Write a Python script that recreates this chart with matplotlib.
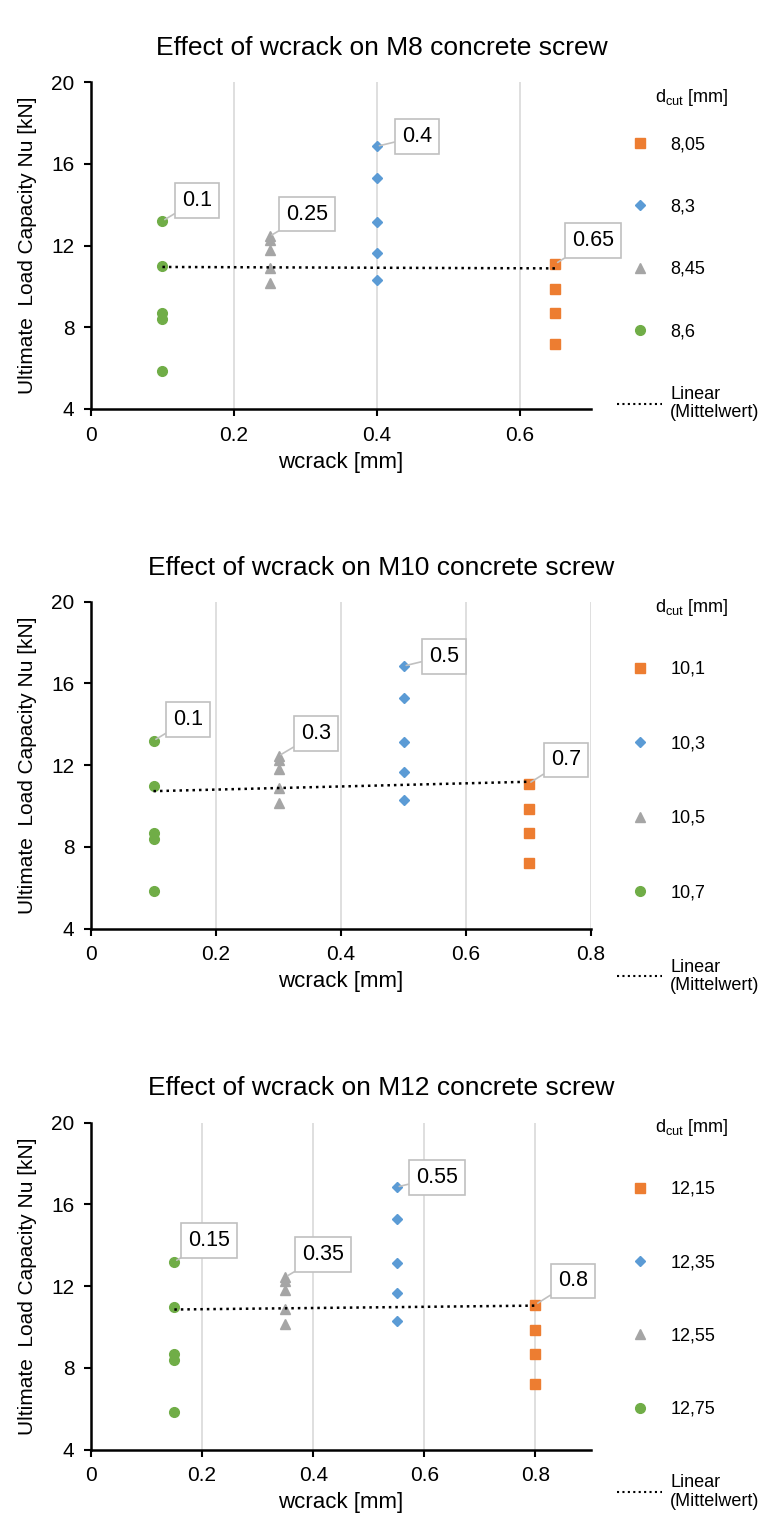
import numpy as np
import matplotlib
matplotlib.use("Agg")
import matplotlib.pyplot as plt
from matplotlib.lines import Line2D

plt.rcParams['font.family'] = ['Liberation Sans', 'DejaVu Sans']
plt.rcParams['mathtext.fontset'] = 'custom'
plt.rcParams['mathtext.rm'] = 'Liberation Sans'

# data (same Nu values in all three panels)
screws = ["M8", "M10", "M12"]
dcut_labels = [["8,05", "8,3", "8,45", "8,6"],
               ["10,1", "10,3", "10,5", "10,7"],
               ["12,15", "12,35", "12,55", "12,75"]]
# wcrack for orange, blue, gray, green series
wcrack = [[0.65, 0.4, 0.25, 0.1],
          [0.7, 0.5, 0.3, 0.1],
          [0.8, 0.55, 0.35, 0.15]]
nu_orange = [11.1, 9.85, 8.7, 7.2]
nu_blue = [16.85, 15.3, 13.15, 11.65, 10.3]
nu_gray = [12.45, 12.25, 11.8, 10.9, 10.15]
nu_green = [13.2, 11.0, 8.7, 8.4, 5.85]
trend_y = [[10.95, 10.88], [10.73, 11.19], [10.86, 11.05]]
x_max = [0.7, 0.8, 0.9]

nu_series = [nu_orange, nu_blue, nu_gray, nu_green]
colors = ['#ED7D31', '#5B9BD5', '#A5A5A5', '#70AD47']
markers = ['s', 'D', '^', 'o']
msizes = [7, 5.5, 7, 7]
callout_off = [(27, 17), (29, 7), (27, 16), (25, 15)]

fig = plt.figure(figsize=(7.63, 15.22), dpi=100)
H = 1522.0
W = 763.0
axes_top = [82, 601.7, 1122.7]
title_y = [48, 568, 1088]
leg_space = [2.52, 3.18, 3.12]
leg_top = [136, 661, 1181]
dcut_y = [98, 608, 1128]

for i in range(3):
    top = axes_top[i]
    ax = fig.add_axes([91 / W, 1 - (top + 327) / H, 500 / W, 327 / H])

    for s in range(4):
        xs = np.full(len(nu_series[s]), wcrack[i][s])
        ax.plot(xs, nu_series[s], ls='none', marker=markers[s], color=colors[s],
                markersize=msizes[s], zorder=3)

    tx = [min(wcrack[i]), max(wcrack[i])]
    ax.plot(tx, trend_y[i], color='black', ls=(0, (1, 1.6)), lw=1.8, zorder=4)

    for s in range(4):
        ymax = max(nu_series[s])
        ax.annotate(f"{wcrack[i][s]:g}", xy=(wcrack[i][s], ymax),
                    xytext=callout_off[s], textcoords='offset points',
                    ha='center', va='center', fontsize=15.5, zorder=5,
                    bbox=dict(boxstyle='square,pad=0.32', fc='white', ec='#c0c0c0', lw=1.2),
                    arrowprops=dict(arrowstyle='-', color='#c0c0c0', lw=1.2,
                                    shrinkA=0, shrinkB=2))

    ax.set_xlim(0, x_max[i])
    ax.set_ylim(4, 20)
    ax.set_yticks([4, 8, 12, 16, 20])
    xt = np.arange(0, x_max[i] + 0.001, 0.2).round(1)
    ax.set_xticks(xt)
    ax.set_xticklabels([f"{v:g}" for v in xt])
    ax.grid(axis='x', color='#d9d9d9', lw=1.2)
    ax.set_axisbelow(True)
    for side in ['top', 'right']:
        ax.spines[side].set_visible(False)
    for side in ['left', 'bottom']:
        ax.spines[side].set_linewidth(1.8)
    ax.tick_params(direction='out', length=5, width=1.5, labelsize=15, pad=7)
    ax.set_xlabel("wcrack [mm]", fontsize=16, labelpad=5)
    ax.set_ylabel("Ultimate  Load Capacity Nu [kN]", fontsize=15, labelpad=10)

    fig.text(0.5, 1 - title_y[i] / H, f"Effect of wcrack on {screws[i]} concrete screw",
             ha='center', va='center', fontsize=19)

    handles = [Line2D([], [], ls='none', marker=markers[s], color=colors[s],
                      markersize=msizes[s]) for s in range(4)]
    handles.append(Line2D([], [], color='black', ls=(0, (1, 1.6)), lw=1.5))
    labels = dcut_labels[i] + ["Linear\n(Mittelwert)"]
    leg = ax.legend(handles, labels, loc='upper left', bbox_to_anchor=(617 / W, 1 - leg_top[i] / H),
                    bbox_transform=fig.transFigure, frameon=False, fontsize=13,
                    handlelength=2.5, handletextpad=0.45, labelspacing=leg_space[i],
                    borderpad=0, borderaxespad=0)
    leg.get_texts()[-1].set_linespacing(1.1)
    fig.text(655 / W, 1 - dcut_y[i] / H, r"$\mathregular{d_{cut}}$ [mm]",
             ha='left', va='center', fontsize=13)

fig.savefig("out.png", dpi=100)
